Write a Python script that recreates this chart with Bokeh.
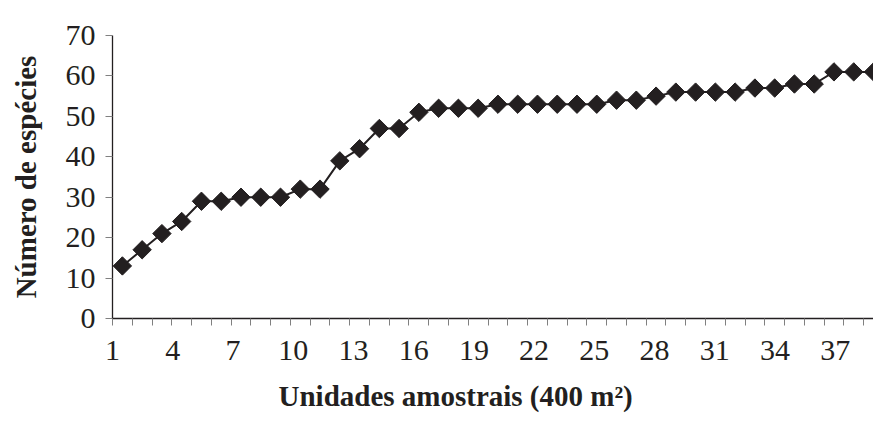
import math
from bokeh.plotting import figure
from bokeh.models import Range1d, FixedTicker, CustomJSTickFormatter, Title
from bokeh.embed import file_html
from bokeh.resources import INLINE

# ---- data ----
units = list(range(1, 40))
species = [13, 17, 21, 24, 29, 29, 30, 30, 30, 32,
           32, 39, 42, 47, 47, 51, 52, 52, 52, 53,
           53, 53, 53, 53, 53, 54, 54, 55, 56, 56,
           56, 56, 57, 57, 58, 58, 61, 61, 61]
x_tick_labels = ["1", "4", "7", "10", "13", "16", "19", "22", "25", "28", "31", "34", "37"]
y_ticks = [0, 10, 20, 30, 40, 50, 60, 70]
x_title = "Unidades amostrais (400 m²)"
y_title = "Número de espécies"

# ---- layout ----
INK = "#231f20"
FONT = "Liberation Serif"
LABEL_STEP = 1.0157  # label spacing drift seen in the original

p = figure(width=873, height=426, output_backend="svg", toolbar_location=None,
           x_range=Range1d(0.5, 39.0), y_range=Range1d(0, 70),
           min_border_left=112, min_border_right=0,
           min_border_top=35, min_border_bottom=108)
p.outline_line_color = None
p.grid.visible = False
p.background_fill_color = "white"
p.border_fill_color = "white"

p.line(units, species, line_width=2, color=INK)
p.scatter(units, species, marker="square", size=13, angle=math.pi / 4,
          color=INK)

# x axis: boundary ticks (minor), labels every 3rd category (major, no tick)
label_pos = [round(0.5 + (int(t) - 1) * LABEL_STEP, 6) for t in x_tick_labels]
xa = p.xaxis[0]
xa.ticker = FixedTicker(ticks=label_pos, minor_ticks=[u - 0.5 for u in units])
xa.formatter = CustomJSTickFormatter(
    args=dict(pos=label_pos, labels=x_tick_labels),
    code="""
const i = pos.findIndex(v => Math.abs(v - tick) < 1e-4);
return i >= 0 ? labels[i] : "";
""")
xa.major_tick_line_color = None
xa.minor_tick_line_color = "#808080"
xa.minor_tick_out = 7
xa.minor_tick_in = 0
xa.axis_line_color = INK
xa.axis_line_width = 1.3
xa.major_label_text_font = FONT
xa.major_label_text_font_size = "30px"
xa.major_label_text_color = INK
xa.major_label_standoff = 15

ya = p.yaxis[0]
ya.ticker = FixedTicker(ticks=y_ticks)
ya.minor_tick_line_color = None
ya.major_tick_line_color = "#808080"
ya.major_tick_out = 7
ya.major_tick_in = 0
ya.axis_line_color = INK
ya.axis_line_width = 1.3
ya.major_label_text_font = FONT
ya.major_label_text_font_size = "30px"
ya.major_label_text_color = INK
ya.major_label_standoff = 10
ya.axis_label = y_title
ya.axis_label_text_font = FONT
ya.axis_label_text_font_size = "29px"
ya.axis_label_text_font_style = "bold"
ya.axis_label_text_color = INK
ya.axis_label_standoff = 21

xt = Title(text=x_title, align="left", offset=166, standoff=30,
           vertical_align="bottom",
           text_font=FONT, text_font_size="29px", text_font_style="bold",
           text_color=INK)
p.add_layout(xt, "below")

open("out.html", "w").write(file_html(p, INLINE))
